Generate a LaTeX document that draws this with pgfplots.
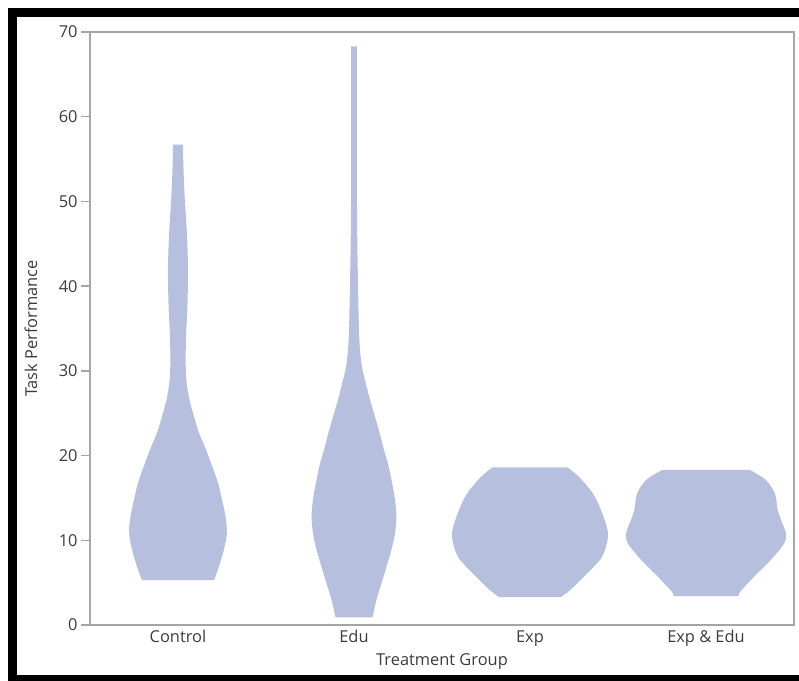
\documentclass[border=0pt]{standalone}
\usepackage{pgfplots}
\pgfplotsset{compat=1.18}
\usepackage{pgfplotstable}
\usepgfplotslibrary{fillbetween}
\usepackage{fontspec}
\setmainfont{Open Sans}
\definecolor{vio}{RGB}{182,191,222}
\definecolor{axgray}{RGB}{165,165,165}
\definecolor{txt}{RGB}{60,60,60}

\pgfplotstableread{
y w
5.3 0.205
6.9 0.233
8.9 0.261
10.9 0.278
12.8 0.270
14.8 0.250
16.8 0.227
18.8 0.193
20.7 0.159
22.7 0.119
24.6 0.091
26.6 0.065
28.6 0.049
30.5 0.044
32.5 0.044
34.8 0.047
38.0 0.054
42.0 0.057
46.0 0.051
50.5 0.038
54.0 0.031
56.7 0.028
}\control

\pgfplotstableread{
y w
0.9 0.105
3.0 0.128
4.9 0.156
6.9 0.185
8.9 0.213
10.8 0.233
12.8 0.241
14.8 0.233
16.8 0.216
18.8 0.196
20.7 0.170
22.7 0.145
24.6 0.119
26.6 0.091
28.6 0.066
30.5 0.045
32.5 0.034
35.0 0.028
40.0 0.023
45.0 0.019
50.0 0.017
60.0 0.017
68.3 0.017
}\edu

\pgfplotstableread{
y w
3.3 0.176
4.1 0.227
5.7 0.307
7.7 0.398
8.85 0.426
10.4 0.443
11.6 0.436
13.6 0.403
15.5 0.358
17.5 0.278
18.6 0.213
}\expg

\pgfplotstableread{
y w
3.4 0.185
3.9 0.193
5.7 0.273
7.7 0.369
9.6 0.443
10.8 0.455
12.4 0.426
13.6 0.407
15.5 0.392
17.1 0.341
18.3 0.250
}\expedu

\begin{document}
\begin{tikzpicture}
\begin{axis}[
  at={(0,0)}, anchor=south west,
  scale only axis,
  width=352pt, height=296.5pt,
  xmin=-0.5, xmax=3.5, ymin=0, ymax=70,
  xtick={0,1,2,3},
  xticklabels={Control,Edu,Exp,Exp \& Edu},
  ytick={0,10,...,70},
  axis line style={draw=axgray, line width=0.75pt},
  tick style={draw=axgray, line width=0.75pt},
  x tick style={draw=none},
  major tick length=4.5pt,
  tick align=outside,
  ytick pos=left, xtick pos=bottom,
  font=\fontsize{8.2}{10}\selectfont,
  /pgf/number format/assume math mode=true,
  tick label style={text=txt},
  yticklabel style={anchor=east, xshift=1.8pt},
  xticklabel style={anchor=base, yshift=-4.5pt},
  xlabel={Treatment Group},
  ylabel={Task Performance},
  xlabel style={at={(axis description cs:0.5,-0.0675)}, anchor=base, text=txt},
  ylabel style={at={(axis description cs:-0.084,0.5)}, anchor=center, text=txt},
  clip=false,
]
\addplot[name path=cR, draw=none, smooth, tension=0.5] table[x expr=0+\thisrow{w}, y=y]{\control};
\addplot[name path=cL, draw=none, smooth, tension=0.5] table[x expr=0-\thisrow{w}, y=y]{\control};
\addplot[fill=vio, draw=none] fill between[of=cR and cL, reverse=true];

\addplot[name path=eR, draw=none, smooth, tension=0.5] table[x expr=1+\thisrow{w}, y=y]{\edu};
\addplot[name path=eL, draw=none, smooth, tension=0.5] table[x expr=1-\thisrow{w}, y=y]{\edu};
\addplot[fill=vio, draw=none] fill between[of=eR and eL, reverse=true];

\addplot[name path=xR, draw=none, smooth, tension=0.5] table[x expr=2+\thisrow{w}, y=y]{\expg};
\addplot[name path=xL, draw=none, smooth, tension=0.5] table[x expr=2-\thisrow{w}, y=y]{\expg};
\addplot[fill=vio, draw=none] fill between[of=xR and xL, reverse=true];

\addplot[name path=bR, draw=none, smooth, tension=0.5] table[x expr=3+\thisrow{w}, y=y]{\expedu};
\addplot[name path=bL, draw=none, smooth, tension=0.5] table[x expr=3-\thisrow{w}, y=y]{\expedu};
\addplot[fill=vio, draw=none] fill between[of=bR and bL, reverse=true];
\end{axis}
\draw[line width=4.5pt, black] (-38.75pt,306.25pt) rectangle (358pt,-27.25pt);
\pgfresetboundingbox
\useasboundingbox (-45pt,-28pt) rectangle (354.5pt,312.5pt);
\end{tikzpicture}
\end{document}
